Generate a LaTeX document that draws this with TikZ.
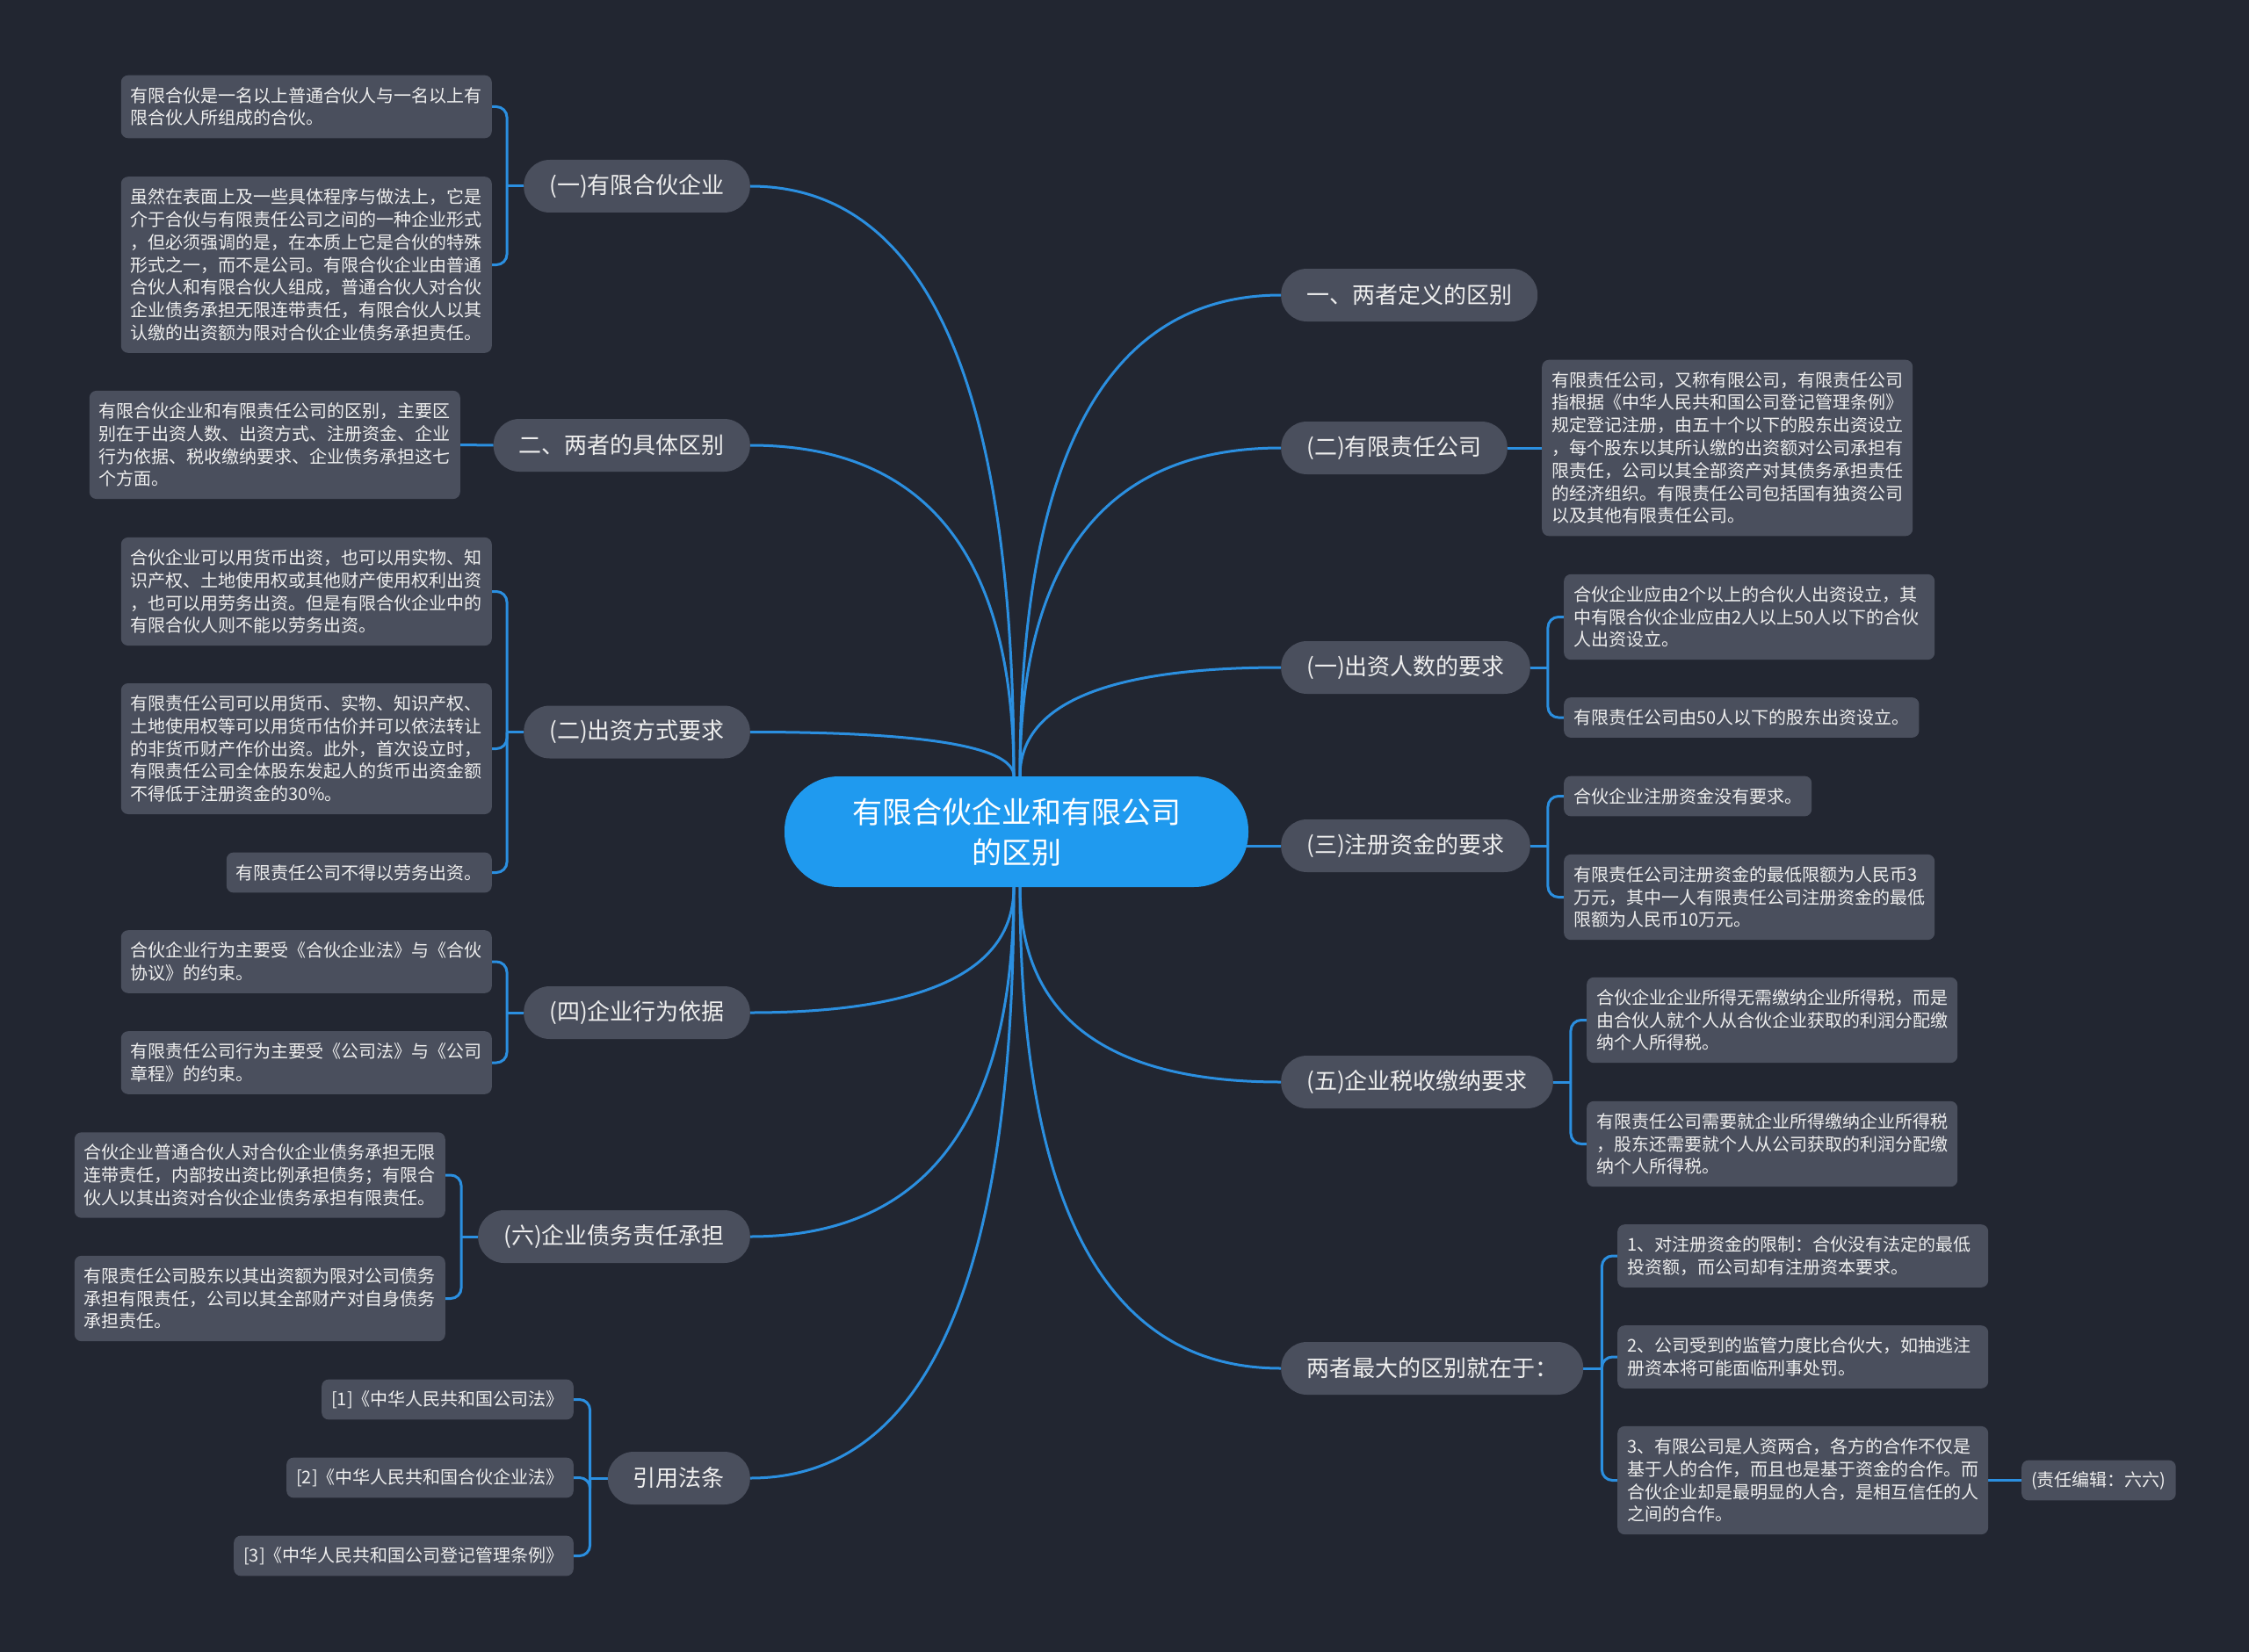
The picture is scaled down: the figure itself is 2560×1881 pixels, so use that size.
\documentclass[tikz,border=0pt]{standalone}
\usepackage{fontspec}
\setmainfont{Noto Sans CJK SC}
\usetikzlibrary{calc,backgrounds}
\definecolor{bgc}{HTML}{222631}
\definecolor{nodefill}{HTML}{4A4F5D}
\definecolor{linec}{HTML}{2B8FE0}
\definecolor{rootfill}{HTML}{1F9AEF}
\definecolor{txt}{HTML}{EEEEEE}
\tikzset{
  rootnode/.style={fill=rootfill, rounded corners=62pt, minimum width=528pt, minimum height=126pt,
    align=center, text=white, font=\fontsize{34}{46}\selectfont, inner sep=0pt},
  branch/.style={fill=nodefill, rounded corners=29.5pt, minimum height=60pt, inner xsep=29pt,
    inner ysep=0pt, text=txt, font=\fontsize{26}{30}\selectfont},
  leaf/.style={fill=nodefill, rounded corners=8pt, text=txt, font=\fontsize{20}{25.8}\selectfont,
    align=left, inner xsep=11pt, inner ysep=0pt, minimum height=45.8pt},
  leafw/.style={leaf, text width=400pt},
  main/.style={draw=linec, line width=3pt},
  brk/.style={draw=linec, line width=3pt, rounded corners=12pt},
}
\newcommand\mlink[2]{\draw[main] (#1) .. controls ($(#1)!0.6667!(#1 -| #2)$) and ($(#2)!0.6667!(#1 -| #2)$) .. (#2);}
\begin{document}
\begin{tikzpicture}[x=1pt,y=-1pt]
\useasboundingbox (0,0) rectangle (2560,1881);
\begin{scope}[on background layer]
\fill[bgc] (0,0) rectangle (2560,1881);
\end{scope}

% root
\node[rootnode] (root) at (1157,947) {有限合伙企业和有限公司\\的区别};

% left branches
\node[branch, anchor=east] (b1) at (854,212) {(一)有限合伙企业};
\node[branch, anchor=east] (b2) at (854,507) {二、两者的具体区别};
\node[branch, anchor=east] (b3) at (854,833.5) {(二)出资方式要求};
\node[branch, anchor=east] (b4) at (854,1153) {(四)企业行为依据};
\node[branch, anchor=east] (b5) at (854,1408) {(六)企业债务责任承担};
\node[branch, anchor=east] (b6) at (854,1683) {引用法条};

% right branches
\node[branch, anchor=west] (r1) at (1458,336) {一、两者定义的区别};
\node[branch, anchor=west] (r2) at (1458,510) {(二)有限责任公司};
\node[branch, anchor=west] (r3) at (1458,760) {(一)出资人数的要求};
\node[branch, anchor=west] (r4) at (1458,963) {(三)注册资金的要求};
\node[branch, anchor=west] (r5) at (1458,1232) {(五)企业税收缴纳要求};
\node[branch, anchor=west] (r6) at (1458,1558) {两者最大的区别就在于：};

% left leaves
\node[leafw, anchor=east, minimum height=71.6pt] (l1a) at (560,121.5) {有限合伙是一名以上普通合伙人与一名以上有\\限合伙人所组成的合伙。};
\node[leafw, anchor=east, minimum height=200.6pt] (l1b) at (560,301.5) {虽然在表面上及一些具体程序与做法上，它是\\介于合伙与有限责任公司之间的一种企业形式\\，但必须强调的是，在本质上它是合伙的特殊\\形式之一，而不是公司。有限合伙企业由普通\\合伙人和有限合伙人组成，普通合伙人对合伙\\企业债务承担无限连带责任，有限合伙人以其\\认缴的出资额为限对合伙企业债务承担责任。};
\node[leafw, anchor=east, minimum height=123.2pt] (l2a) at (524,506.5) {有限合伙企业和有限责任公司的区别，主要区\\别在于出资人数、出资方式、注册资金、企业\\行为依据、税收缴纳要求、企业债务承担这七\\个方面。};
\node[leafw, anchor=east, minimum height=123.2pt] (l3a) at (560,673.5) {合伙企业可以用货币出资，也可以用实物、知\\识产权、土地使用权或其他财产使用权利出资\\，也可以用劳务出资。但是有限合伙企业中的\\有限合伙人则不能以劳务出资。};
\node[leafw, anchor=east, minimum height=149pt] (l3b) at (560,852.5) {有限责任公司可以用货币、实物、知识产权、\\土地使用权等可以用货币估价并可以依法转让\\的非货币财产作价出资。此外，首次设立时，\\有限责任公司全体股东发起人的货币出资金额\\不得低于注册资金的30\%。};
\node[leaf, anchor=east] (l3c) at (560,993.5) {有限责任公司不得以劳务出资。};
\node[leafw, anchor=east, minimum height=71.6pt] (l4a) at (560,1095) {合伙企业行为主要受《合伙企业法》与《合伙\\协议》的约束。};
\node[leafw, anchor=east, minimum height=71.6pt] (l4b) at (560,1210) {有限责任公司行为主要受《公司法》与《公司\\章程》的约束。};
\node[leafw, anchor=east, minimum height=97.4pt] (l5a) at (507,1338) {合伙企业普通合伙人对合伙企业债务承担无限\\连带责任，内部按出资比例承担债务；有限合\\伙人以其出资对合伙企业债务承担有限责任。};
\node[leafw, anchor=east, minimum height=97.4pt] (l5b) at (507,1478.5) {有限责任公司股东以其出资额为限对公司债务\\承担有限责任，公司以其全部财产对自身债务\\承担责任。};
\node[leaf, anchor=east] (l6a) at (653,1593.5) {[1]《中华人民共和国公司法》};
\node[leaf, anchor=east] (l6b) at (653,1682.5) {[2]《中华人民共和国合伙企业法》};
\node[leaf, anchor=east] (l6c) at (653,1771.5) {[3]《中华人民共和国公司登记管理条例》};

% right leaves
\node[leafw, anchor=west, minimum height=200.6pt] (q2a) at (1755,510) {有限责任公司，又称有限公司，有限责任公司\\指根据《中华人民共和国公司登记管理条例》\\规定登记注册，由五十个以下的股东出资设立\\，每个股东以其所认缴的出资额对公司承担有\\限责任，公司以其全部资产对其债务承担责任\\的经济组织。有限责任公司包括国有独资公司\\以及其他有限责任公司。};
\node[leafw, anchor=west, minimum height=97.4pt] (q3a) at (1780,702.5) {合伙企业应由2个以上的合伙人出资设立，其\\中有限合伙企业应由2人以上50人以下的合伙\\人出资设立。};
\node[leaf, anchor=west] (q3b) at (1780,817) {有限责任公司由50人以下的股东出资设立。};
\node[leaf, anchor=west] (q4a) at (1780,906.5) {合伙企业注册资金没有要求。};
\node[leafw, anchor=west, minimum height=97.4pt] (q4b) at (1780,1021.5) {有限责任公司注册资金的最低限额为人民币3\\万元，其中一人有限责任公司注册资金的最低\\限额为人民币10万元。};
\node[leafw, anchor=west, minimum height=97.4pt] (q5a) at (1806,1161.5) {合伙企业企业所得无需缴纳企业所得税，而是\\由合伙人就个人从合伙企业获取的利润分配缴\\纳个人所得税。};
\node[leafw, anchor=west, minimum height=97.4pt] (q5b) at (1806,1302.5) {有限责任公司需要就企业所得缴纳企业所得税\\，股东还需要就个人从公司获取的利润分配缴\\纳个人所得税。};
\node[leafw, anchor=west, minimum height=71.6pt] (q6a) at (1841,1430) {1、对注册资金的限制：合伙没有法定的最低\\投资额，而公司却有注册资本要求。};
\node[leafw, anchor=west, minimum height=71.6pt] (q6b) at (1841,1545) {2、公司受到的监管力度比合伙大，如抽逃注\\册资本将可能面临刑事处罚。};
\node[leafw, anchor=west, minimum height=123.2pt] (q6c) at (1841,1685.5) {3、有限公司是人资两合，各方的合作不仅是\\基于人的合作，而且也是基于资金的合作。而\\合伙企业却是最明显的人合，是相互信任的人\\之间的合作。};
\node[leaf, anchor=west] (q6d) at (2301,1685.5) {(责任编辑：六六)};

\begin{scope}[on background layer]
\coordinate (rtl) at ($(root.north)+(-3,0)$);
\coordinate (rtr) at ($(root.north)+(4,0)$);
\coordinate (rbl) at ($(root.south)+(-3,0)$);
\coordinate (rbr) at ($(root.south)+(4,0)$);
% main curves
\mlink{b1.east}{rtl}
\mlink{b2.east}{rtl}
\mlink{b3.east}{rtl}
\mlink{b4.east}{rbl}
\mlink{b5.east}{rbl}
\mlink{b6.east}{rbl}
\mlink{r1.west}{rtr}
\mlink{r2.west}{rtr}
\mlink{r3.west}{rtr}
\mlink{r5.west}{rbr}
\mlink{r6.west}{rbr}
\draw[main] (r4.west) -- ($(r4.west -| root.east)+(-20,0)$);
% single children
\draw[main] (b2.west) -- (l2a.east);
\draw[main] (r2.east) -- (q2a.west);
\draw[main] (q6c.east) -- (q6d.west);
% brackets left
\draw[main] (b1.west) -- ++(-19,0) coordinate (j1);
\draw[brk] (j1) |- (l1a.east);
\draw[brk] (j1) |- (l1b.east);
\draw[main] (b3.west) -- ++(-19,0) coordinate (j3);
\draw[brk] (j3) |- (l3a.east);
\draw[brk] (j3) |- (l3b.east);
\draw[brk] (j3) |- (l3c.east);
\draw[main] (b4.west) -- ++(-19,0) coordinate (j4);
\draw[brk] (j4) |- (l4a.east);
\draw[brk] (j4) |- (l4b.east);
\draw[main] (b5.west) -- ++(-19,0) coordinate (j5);
\draw[brk] (j5) |- (l5a.east);
\draw[brk] (j5) |- (l5b.east);
\draw[main] (b6.west) -- ++(-20,0) coordinate (j6);
\draw[brk] (j6) |- (l6a.east);
\draw[brk] (j6) |- (l6b.east);
\draw[brk] (j6) |- (l6c.east);
% brackets right
\draw[main] (r3.east) -- ++(20,0) coordinate (k3);
\draw[brk] (k3) |- (q3a.west);
\draw[brk] (k3) |- (q3b.west);
\draw[main] (r4.east) -- ++(20,0) coordinate (k4);
\draw[brk] (k4) |- (q4a.west);
\draw[brk] (k4) |- (q4b.west);
\draw[main] (r5.east) -- ++(20,0) coordinate (k5);
\draw[brk] (k5) |- (q5a.west);
\draw[brk] (k5) |- (q5b.west);
\draw[main] (r6.east) -- ++(21,0) coordinate (k6);
\draw[brk] (k6) |- (q6a.west);
\draw[brk] (k6) |- (q6b.west);
\draw[brk] (k6) |- (q6c.west);
\end{scope}
\end{tikzpicture}
\end{document}
